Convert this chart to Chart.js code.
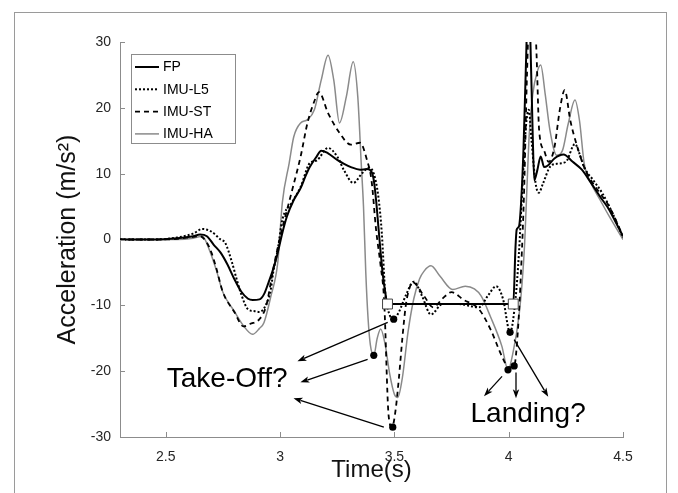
<!DOCTYPE html>
<html>
<head>
<meta charset="utf-8">
<script src="https://cdn.jsdelivr.net/npm/chart.js@4.4.1/dist/chart.umd.min.js"></script>
<style>
  html, body { margin: 0; padding: 0; background: #fff; }
  #wrap { position: relative; width: 678px; height: 493px; overflow: hidden; }
  #frame { position: absolute; left: 14px; top: 12px; width: 651px; height: 490px; border: 1px solid #9a9a9a; border-bottom: none; }
  #chart { position: absolute; left: 0; top: 0; }
</style>
</head>
<body>
<div id="wrap">
  <div id="frame"></div>
  <canvas id="chart" width="678" height="493"></canvas>
</div>
<script>
// --- data (time in s, acceleration in m/s^2) ---
const fpTime = [2.30, 2.45, 2.55, 2.62, 2.65, 2.68, 2.71, 2.74, 2.77, 2.80, 2.83, 2.86, 2.88, 2.91, 2.93, 2.95, 2.97, 2.99, 3.01, 3.03, 3.06, 3.09, 3.11, 3.13, 3.16, 3.18, 3.21, 3.25, 3.28, 3.31, 3.35, 3.38, 3.40, 3.41, 3.42, 3.43, 3.44, 3.45, 3.46, 3.47, 3.60, 3.80, 4.02, 4.03, 4.035, 4.045, 4.055, 4.065, 4.075, 4.085, 4.095, 4.105, 4.112, 4.125, 4.14, 4.155, 4.17, 4.20, 4.24, 4.28, 4.32, 4.36, 4.40, 4.44, 4.47, 4.50];
const fpAcc = [0, 0, 0.2, 0.5, 0.75, 0.5, -0.8, -2, -3.8, -6, -7.9, -9, -9.2, -9.1, -8.3, -6.5, -4.5, -2, 1, 3.5, 6, 7.8, 9.5, 11, 12.6, 13.5, 13.1, 12.1, 11.5, 11, 10.6, 10.7, 10.3, 9, 6, 2, -2, -5.5, -8, -9.8, -9.8, -9.8, -9.8, -1, 1.5, 2, 6, 14, 26, 36, 30, 16, 9, 10.5, 12.6, 11, 11.2, 12.3, 12.9, 11.8, 10.6, 8.6, 6.5, 4.5, 2.5, 0.5];

const l5Time = [2.30, 2.45, 2.55, 2.62, 2.66, 2.70, 2.74, 2.76, 2.79, 2.81, 2.83, 2.86, 2.89, 2.91, 2.94, 2.96, 2.97, 2.99, 3.01, 3.05, 3.09, 3.13, 3.16, 3.21, 3.25, 3.28, 3.32, 3.36, 3.39, 3.41, 3.43, 3.445, 3.46, 3.48, 3.497, 3.52, 3.55, 3.585, 3.62, 3.66, 3.71, 3.78, 3.87, 3.91, 3.945, 3.975, 4.006, 4.03, 4.045, 4.06, 4.075, 4.088, 4.10, 4.118, 4.132, 4.15, 4.18, 4.21, 4.25, 4.29, 4.31, 4.33, 4.37, 4.41, 4.45, 4.50];
const l5Acc = [0, 0, 0.3, 0.9, 1.6, 1.2, 0, -0.5, -3.5, -6, -8.3, -10.6, -10.9, -11, -9.8, -7.5, -5, -1.5, 3, 5.5, 8, 11.6, 12, 13.9, 12.6, 10.5, 8.6, 10.1, 10.9, 10, 6.5, 1, -8, -11.5, -12.1, -11, -8.5, -6.4, -8.5, -11.4, -9.8, -9.8, -10.3, -8.5, -7.1, -9, -14.1, -9, -2, 8, 17, 19.7, 15, 8.5, 7.1, 8.5, 11, 11.5, 11.8, 14.5, 13, 11, 9, 7, 4.3, 0.3];

const stTime = [2.30, 2.45, 2.55, 2.62, 2.65, 2.68, 2.70, 2.72, 2.75, 2.80, 2.84, 2.87, 2.91, 2.94, 2.97, 3.00, 3.05, 3.09, 3.12, 3.15, 3.17, 3.21, 3.26, 3.31, 3.35, 3.38, 3.40, 3.42, 3.44, 3.455, 3.475, 3.49, 3.505, 3.52, 3.535, 3.55, 3.565, 3.58, 3.63, 3.67, 3.71, 3.75, 3.80, 3.87, 3.92, 3.97, 4.0, 4.024, 4.04, 4.055, 4.068, 4.08, 4.095, 4.11, 4.122, 4.133, 4.155, 4.175, 4.20, 4.225, 4.245, 4.27, 4.30, 4.33, 4.36, 4.40, 4.44, 4.50];
const stAcc = [0, 0, 0.1, 0.4, 0.5, -0.5, -2, -4.2, -8, -11, -13.2, -12.8, -12.1, -10, -4.5, 0.3, 7.1, 12.6, 17.7, 21, 22.4, 19.2, 16.2, 14.4, 14.7, 12.1, 9, 1.5, -4, -9.1, -26.8, -28.5, -26, -21, -15, -10, -7.5, -6.5, -8.6, -10.3, -9, -8, -9.1, -10.6, -13.6, -17.7, -19.4, -19.2, -14, -4, 8, 25, 38, 37, 28, 16.7, 13.5, 11.8, 14, 20, 22.7, 18, 14.1, 11, 9, 7, 5, 0.5];

const haTime = [2.30, 2.45, 2.55, 2.62, 2.66, 2.69, 2.72, 2.75, 2.80, 2.84, 2.88, 2.91, 2.93, 2.96, 2.99, 3.01, 3.04, 3.06, 3.09, 3.12, 3.15, 3.18, 3.21, 3.235, 3.26, 3.29, 3.32, 3.34, 3.355, 3.365, 3.375, 3.385, 3.395, 3.41, 3.425, 3.44, 3.46, 3.48, 3.50, 3.515, 3.535, 3.56, 3.585, 3.61, 3.63, 3.66, 3.70, 3.755, 3.81, 3.85, 3.88, 3.92, 3.97, 3.997, 4.02, 4.045, 4.06, 4.07, 4.08, 4.09, 4.105, 4.125, 4.14, 4.16, 4.18, 4.21, 4.235, 4.26, 4.29, 4.31, 4.33, 4.36, 4.40, 4.44, 4.50];
const haAcc = [0, 0, 0, 0.2, 0.5, -1.5, -4.5, -8, -10.9, -13.1, -14.4, -13.5, -12.6, -8.6, -3.5, 5.6, 11.6, 15.6, 17.7, 18.2, 19.7, 24.2, 28, 24.2, 17.7, 21.7, 27, 21.7, 11.6, 5, -5, -12, -16, -17.6, -15, -13.6, -16, -20.5, -23.5, -24, -21, -14, -9, -6, -4.8, -4.0, -5.6, -7.6, -7.1, -7.5, -8.6, -11.7, -16.2, -19.8, -17, -11.6, -6, -0.5, 8, 16, 22, 25.5, 26.5, 22, 16.7, 12.8, 13.5, 17.5, 21.2, 18, 11.6, 8.6, 6, 3.5, 0];

// flight phase markers and detected events
const squareTime = [3.47, 4.02];
const squareAcc = [-9.8, -9.8];
const eventTime = [3.41, 3.497, 3.493, 4.006, 3.997, 4.024];
const eventAcc = [-17.6, -12.1, -28.5, -14.1, -19.8, -19.2];

const xTicks = [2.5, 3, 3.5, 4, 4.5];
const yTicks = [-30, -20, -10, 0, 10, 20, 30];

// annotations in data coordinates: [fromT, fromA, toT, toA]
const takeOffArrows = [[3.471, -12.6, 3.076, -18.5], [3.383, -18.2, 3.089, -21.7], [3.454, -28.5, 3.059, -24.1]];
const landingArrows = [[3.971, -20.8, 3.892, -23.8], [4.032, -20.2, 4.032, -24.1], [4.024, -15.2, 4.173, -23.9]];
const labels = [{ text: 'Take-Off?', t: 2.769, a: -21.2 }, { text: 'Landing?', t: 4.085, a: -26.5 }];

const FONT = "'Liberation Sans', Arial, sans-serif";
const pts = (ts, vs) => ts.map((t, i) => ({ x: t, y: vs[i] }));

function lineSet(label, ts, vs, color, width, dash, order) {
  return {
    label, data: pts(ts, vs), borderColor: color, backgroundColor: color,
    borderWidth: width, borderDash: dash, pointRadius: 0, order,
    cubicInterpolationMode: 'monotone', clip: 0, inLegend: true
  };
}

const decorations = {
  id: 'decorations',
  afterDatasetsDraw(chart) {
    const { ctx, chartArea: area, scales: { x, y } } = chart;
    ctx.save();

    // inward tick marks
    ctx.strokeStyle = '#8c8c8c';
    ctx.lineWidth = 1;
    x.ticks.forEach(t => {
      const px = Math.round(x.getPixelForValue(t.value)) + 0.5;
      ctx.beginPath(); ctx.moveTo(px, area.bottom); ctx.lineTo(px, area.bottom - 5); ctx.stroke();
    });
    y.ticks.forEach(t => {
      const py = Math.round(y.getPixelForValue(t.value)) + 0.5;
      ctx.beginPath(); ctx.moveTo(area.left, py); ctx.lineTo(area.left + 5, py); ctx.stroke();
    });

    // arrows
    ctx.strokeStyle = '#000';
    ctx.fillStyle = '#000';
    ctx.lineWidth = 1.3;
    takeOffArrows.concat(landingArrows).forEach(([t0, a0, t1, a1]) => {
      const x0 = x.getPixelForValue(t0), y0 = y.getPixelForValue(a0);
      const x1 = x.getPixelForValue(t1), y1 = y.getPixelForValue(a1);
      const ang = Math.atan2(y1 - y0, x1 - x0);
      const len = 9, half = 3.2;
      ctx.beginPath(); ctx.moveTo(x0, y0);
      ctx.lineTo(x1 - Math.cos(ang) * len * 0.8, y1 - Math.sin(ang) * len * 0.8); ctx.stroke();
      ctx.beginPath();
      ctx.moveTo(x1, y1);
      ctx.lineTo(x1 - Math.cos(ang) * len - Math.sin(ang) * half, y1 - Math.sin(ang) * len + Math.cos(ang) * half);
      ctx.lineTo(x1 - Math.cos(ang) * len * 0.75, y1 - Math.sin(ang) * len * 0.75);
      ctx.lineTo(x1 - Math.cos(ang) * len + Math.sin(ang) * half, y1 - Math.sin(ang) * len - Math.cos(ang) * half);
      ctx.closePath(); ctx.fill();
    });

    // event labels
    ctx.font = '28px ' + FONT;
    ctx.textAlign = 'center';
    ctx.textBaseline = 'middle';
    labels.forEach(l => ctx.fillText(l.text, x.getPixelForValue(l.t), y.getPixelForValue(l.a)));

    // legend box
    const lx = area.left + 11.5, ly = area.top + 12.5, lw = 104, lh = 89;
    ctx.fillStyle = '#fff';
    ctx.fillRect(lx, ly, lw, lh);
    ctx.strokeStyle = '#8c8c8c';
    ctx.lineWidth = 1;
    ctx.strokeRect(lx, ly, lw, lh);
    ctx.font = '14px ' + FONT;
    ctx.textAlign = 'left';
    ctx.fillStyle = '#000';
    chart.data.datasets.filter(d => d.inLegend).forEach((d, i) => {
      const ry = ly + 12.5 + i * 22.3;
      ctx.save();
      ctx.strokeStyle = d.borderColor;
      ctx.lineWidth = d.borderWidth;
      ctx.setLineDash(d.borderDash || []);
      ctx.beginPath(); ctx.moveTo(lx + 3.5, ry); ctx.lineTo(lx + 27.5, ry); ctx.stroke();
      ctx.restore();
      ctx.fillText(d.label, lx + 31.5, ry + 0.5);
    });
    ctx.restore();
  }
};

new Chart(document.getElementById('chart'), {
  type: 'line',
  data: {
    datasets: [
      lineSet('FP', fpTime, fpAcc, '#000000', 2, [], 1),
      lineSet('IMU-L5', l5Time, l5Acc, '#000000', 2, [2, 2], 2),
      lineSet('IMU-ST', stTime, stAcc, '#000000', 1.8, [5, 4], 3),
      lineSet('IMU-HA', haTime, haAcc, '#8a8a8a', 1.5, [], 4),
      {
        label: 'flight', data: pts(squareTime, squareAcc), showLine: false, order: 0,
        pointStyle: 'rect', pointRadius: 7, pointBackgroundColor: '#fff',
        pointBorderColor: '#444', pointBorderWidth: 1
      },
      {
        label: 'events', data: pts(eventTime, eventAcc), showLine: false, order: 0,
        pointStyle: 'circle', pointRadius: 3.6, pointBackgroundColor: '#000',
        pointBorderColor: '#000', pointBorderWidth: 0
      }
    ]
  },
  options: {
    responsive: false,
    devicePixelRatio: 1,
    animation: false,
    layout: { padding: { top: 42, right: 55, bottom: 0, left: 0 } },
    plugins: { legend: { display: false }, tooltip: { enabled: false } },
    scales: {
      x: {
        type: 'linear', min: 2.3, max: 4.5,
        afterBuildTicks: s => { s.ticks = xTicks.map(v => ({ value: v })); },
        afterFit: s => { s.height = 56; },
        ticks: { padding: 12, color: '#262626', font: { family: FONT, size: 14 }, callback: v => String(v) },
        grid: { display: false, drawTicks: false },
        border: { color: '#8c8c8c', width: 1 },
        title: { display: true, text: 'Time(s)', color: '#111', font: { family: FONT, size: 24 }, padding: { top: 0, bottom: 8 } }
      },
      y: {
        min: -30, max: 30,
        afterBuildTicks: s => { s.ticks = yTicks.map(v => ({ value: v })); },
        afterFit: s => { s.width = 120; },
        ticks: { padding: 9, color: '#262626', font: { family: FONT, size: 14 } },
        grid: { display: false, drawTicks: false },
        border: { color: '#8c8c8c', width: 1 },
        title: { display: true, text: 'Acceleration (m/s²)', color: '#111', font: { family: FONT, size: 25 }, padding: { top: 53, bottom: 0 } }
      }
    }
  },
  plugins: [decorations]
});
</script>
</body>
</html>
